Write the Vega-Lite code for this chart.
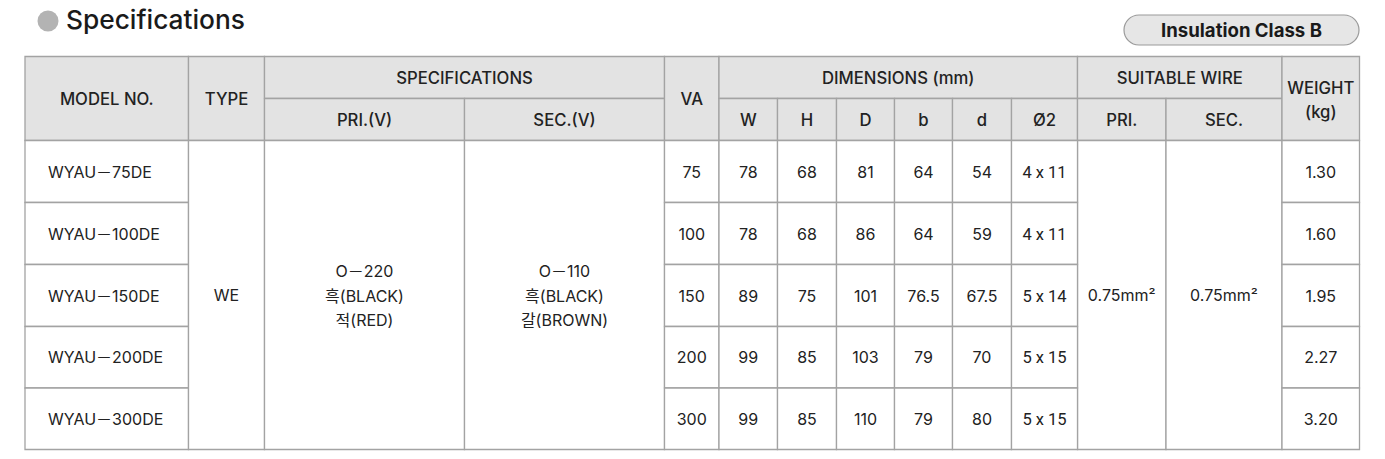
{
  "$schema": "https://vega.github.io/schema/vega-lite/v6.json",
  "width": 1385,
  "height": 459,
  "autosize": {"type": "none"},
  "padding": 0,
  "background": "white",
  "view": {"stroke": null},
  "config": {"font": "Inter, 'Noto Sans CJK KR', sans-serif"},
  "datasets": {
    "cells": [
      {"label": "MODEL NO.", "x0": 25, "x1": 188.5, "y0": 56.5, "y1": 140.5, "cx": 106.75, "cy": 98.5, "kind": "head", "align": "center"},
      {"label": "TYPE", "x0": 188.5, "x1": 264.5, "y0": 56.5, "y1": 140.5, "cx": 226.5, "cy": 98.5, "kind": "head", "align": "center"},
      {"label": "SPECIFICATIONS", "x0": 264.5, "x1": 664.5, "y0": 56.5, "y1": 98.5, "cx": 464.5, "cy": 77.5, "kind": "head", "align": "center"},
      {"label": "PRI.(V)", "x0": 264.5, "x1": 464.5, "y0": 98.5, "y1": 140.5, "cx": 364.5, "cy": 119.5, "kind": "head", "align": "center"},
      {"label": "SEC.(V)", "x0": 464.5, "x1": 664.5, "y0": 98.5, "y1": 140.5, "cx": 564.5, "cy": 119.5, "kind": "head", "align": "center"},
      {"label": "VA", "x0": 664.5, "x1": 719, "y0": 56.5, "y1": 140.5, "cx": 691.75, "cy": 98.5, "kind": "head", "align": "center"},
      {"label": "DIMENSIONS (mm)", "x0": 719, "x1": 1077.5, "y0": 56.5, "y1": 98.5, "cx": 898.25, "cy": 77.5, "kind": "head", "align": "center"},
      {"label": "W", "x0": 719, "x1": 777.5, "y0": 98.5, "y1": 140.5, "cx": 748.25, "cy": 119.5, "kind": "head", "align": "center"},
      {"label": "H", "x0": 777.5, "x1": 836.5, "y0": 98.5, "y1": 140.5, "cx": 807, "cy": 119.5, "kind": "head", "align": "center"},
      {"label": "D", "x0": 836.5, "x1": 894.5, "y0": 98.5, "y1": 140.5, "cx": 865.5, "cy": 119.5, "kind": "head", "align": "center"},
      {"label": "b", "x0": 894.5, "x1": 952.5, "y0": 98.5, "y1": 140.5, "cx": 923.5, "cy": 119.5, "kind": "head", "align": "center"},
      {"label": "d", "x0": 952.5, "x1": 1011.5, "y0": 98.5, "y1": 140.5, "cx": 982, "cy": 119.5, "kind": "head", "align": "center"},
      {"label": "Ø2", "x0": 1011.5, "x1": 1077.5, "y0": 98.5, "y1": 140.5, "cx": 1044.5, "cy": 119.5, "kind": "head", "align": "center"},
      {"label": "SUITABLE WIRE", "x0": 1077.5, "x1": 1282, "y0": 56.5, "y1": 98.5, "cx": 1179.75, "cy": 77.5, "kind": "head", "align": "center"},
      {"label": "PRI.", "x0": 1077.5, "x1": 1166, "y0": 98.5, "y1": 140.5, "cx": 1121.75, "cy": 119.5, "kind": "head", "align": "center"},
      {"label": "SEC.", "x0": 1166, "x1": 1282, "y0": 98.5, "y1": 140.5, "cx": 1224, "cy": 119.5, "kind": "head", "align": "center"},
      {"label": "WEIGHT\n(kg)", "x0": 1282, "x1": 1359.5, "y0": 56.5, "y1": 140.5, "cx": 1320.75, "cy": 98.5, "kind": "head", "align": "center"},

      {"label": "WYAU－75DE", "x0": 25, "x1": 188.5, "y0": 140.5, "y1": 202.5, "cx": 106.75, "cy": 171.5, "kind": "body", "align": "left"},
      {"label": "WYAU－100DE", "x0": 25, "x1": 188.5, "y0": 202.5, "y1": 264.5, "cx": 106.75, "cy": 233.5, "kind": "body", "align": "left"},
      {"label": "WYAU－150DE", "x0": 25, "x1": 188.5, "y0": 264.5, "y1": 326.5, "cx": 106.75, "cy": 295.5, "kind": "body", "align": "left"},
      {"label": "WYAU－200DE", "x0": 25, "x1": 188.5, "y0": 326.5, "y1": 388, "cx": 106.75, "cy": 357.25, "kind": "body", "align": "left"},
      {"label": "WYAU－300DE", "x0": 25, "x1": 188.5, "y0": 388, "y1": 449.5, "cx": 106.75, "cy": 418.75, "kind": "body", "align": "left"},
      {"label": "WE", "x0": 188.5, "x1": 264.5, "y0": 140.5, "y1": 449.5, "cx": 226.5, "cy": 295, "kind": "body", "align": "center"},
      {"label": "O－220\n흑(BLACK)\n적(RED)", "x0": 264.5, "x1": 464.5, "y0": 140.5, "y1": 449.5, "cx": 364.5, "cy": 295, "kind": "body", "align": "center"},
      {"label": "O－110\n흑(BLACK)\n갈(BROWN)", "x0": 464.5, "x1": 664.5, "y0": 140.5, "y1": 449.5, "cx": 564.5, "cy": 295, "kind": "body", "align": "center"},
      {"label": "0.75mm²", "x0": 1077.5, "x1": 1166, "y0": 140.5, "y1": 449.5, "cx": 1121.75, "cy": 295, "kind": "body", "align": "center"},
      {"label": "0.75mm²", "x0": 1166, "x1": 1282, "y0": 140.5, "y1": 449.5, "cx": 1224, "cy": 295, "kind": "body", "align": "center"},

      {"label": "75", "x0": 664.5, "x1": 719, "y0": 140.5, "y1": 202.5, "cx": 691.75, "cy": 171.5, "kind": "body", "align": "center"},
      {"label": "78", "x0": 719, "x1": 777.5, "y0": 140.5, "y1": 202.5, "cx": 748.25, "cy": 171.5, "kind": "body", "align": "center"},
      {"label": "68", "x0": 777.5, "x1": 836.5, "y0": 140.5, "y1": 202.5, "cx": 807, "cy": 171.5, "kind": "body", "align": "center"},
      {"label": "81", "x0": 836.5, "x1": 894.5, "y0": 140.5, "y1": 202.5, "cx": 865.5, "cy": 171.5, "kind": "body", "align": "center"},
      {"label": "64", "x0": 894.5, "x1": 952.5, "y0": 140.5, "y1": 202.5, "cx": 923.5, "cy": 171.5, "kind": "body", "align": "center"},
      {"label": "54", "x0": 952.5, "x1": 1011.5, "y0": 140.5, "y1": 202.5, "cx": 982, "cy": 171.5, "kind": "body", "align": "center"},
      {"label": "4 x 11", "x0": 1011.5, "x1": 1077.5, "y0": 140.5, "y1": 202.5, "cx": 1044.5, "cy": 171.5, "kind": "body", "align": "center"},
      {"label": "1.30", "x0": 1282, "x1": 1359.5, "y0": 140.5, "y1": 202.5, "cx": 1320.75, "cy": 171.5, "kind": "body", "align": "center"},

      {"label": "100", "x0": 664.5, "x1": 719, "y0": 202.5, "y1": 264.5, "cx": 691.75, "cy": 233.5, "kind": "body", "align": "center"},
      {"label": "78", "x0": 719, "x1": 777.5, "y0": 202.5, "y1": 264.5, "cx": 748.25, "cy": 233.5, "kind": "body", "align": "center"},
      {"label": "68", "x0": 777.5, "x1": 836.5, "y0": 202.5, "y1": 264.5, "cx": 807, "cy": 233.5, "kind": "body", "align": "center"},
      {"label": "86", "x0": 836.5, "x1": 894.5, "y0": 202.5, "y1": 264.5, "cx": 865.5, "cy": 233.5, "kind": "body", "align": "center"},
      {"label": "64", "x0": 894.5, "x1": 952.5, "y0": 202.5, "y1": 264.5, "cx": 923.5, "cy": 233.5, "kind": "body", "align": "center"},
      {"label": "59", "x0": 952.5, "x1": 1011.5, "y0": 202.5, "y1": 264.5, "cx": 982, "cy": 233.5, "kind": "body", "align": "center"},
      {"label": "4 x 11", "x0": 1011.5, "x1": 1077.5, "y0": 202.5, "y1": 264.5, "cx": 1044.5, "cy": 233.5, "kind": "body", "align": "center"},
      {"label": "1.60", "x0": 1282, "x1": 1359.5, "y0": 202.5, "y1": 264.5, "cx": 1320.75, "cy": 233.5, "kind": "body", "align": "center"},

      {"label": "150", "x0": 664.5, "x1": 719, "y0": 264.5, "y1": 326.5, "cx": 691.75, "cy": 295.5, "kind": "body", "align": "center"},
      {"label": "89", "x0": 719, "x1": 777.5, "y0": 264.5, "y1": 326.5, "cx": 748.25, "cy": 295.5, "kind": "body", "align": "center"},
      {"label": "75", "x0": 777.5, "x1": 836.5, "y0": 264.5, "y1": 326.5, "cx": 807, "cy": 295.5, "kind": "body", "align": "center"},
      {"label": "101", "x0": 836.5, "x1": 894.5, "y0": 264.5, "y1": 326.5, "cx": 865.5, "cy": 295.5, "kind": "body", "align": "center"},
      {"label": "76.5", "x0": 894.5, "x1": 952.5, "y0": 264.5, "y1": 326.5, "cx": 923.5, "cy": 295.5, "kind": "body", "align": "center"},
      {"label": "67.5", "x0": 952.5, "x1": 1011.5, "y0": 264.5, "y1": 326.5, "cx": 982, "cy": 295.5, "kind": "body", "align": "center"},
      {"label": "5 x 14", "x0": 1011.5, "x1": 1077.5, "y0": 264.5, "y1": 326.5, "cx": 1044.5, "cy": 295.5, "kind": "body", "align": "center"},
      {"label": "1.95", "x0": 1282, "x1": 1359.5, "y0": 264.5, "y1": 326.5, "cx": 1320.75, "cy": 295.5, "kind": "body", "align": "center"},

      {"label": "200", "x0": 664.5, "x1": 719, "y0": 326.5, "y1": 388, "cx": 691.75, "cy": 357.25, "kind": "body", "align": "center"},
      {"label": "99", "x0": 719, "x1": 777.5, "y0": 326.5, "y1": 388, "cx": 748.25, "cy": 357.25, "kind": "body", "align": "center"},
      {"label": "85", "x0": 777.5, "x1": 836.5, "y0": 326.5, "y1": 388, "cx": 807, "cy": 357.25, "kind": "body", "align": "center"},
      {"label": "103", "x0": 836.5, "x1": 894.5, "y0": 326.5, "y1": 388, "cx": 865.5, "cy": 357.25, "kind": "body", "align": "center"},
      {"label": "79", "x0": 894.5, "x1": 952.5, "y0": 326.5, "y1": 388, "cx": 923.5, "cy": 357.25, "kind": "body", "align": "center"},
      {"label": "70", "x0": 952.5, "x1": 1011.5, "y0": 326.5, "y1": 388, "cx": 982, "cy": 357.25, "kind": "body", "align": "center"},
      {"label": "5 x 15", "x0": 1011.5, "x1": 1077.5, "y0": 326.5, "y1": 388, "cx": 1044.5, "cy": 357.25, "kind": "body", "align": "center"},
      {"label": "2.27", "x0": 1282, "x1": 1359.5, "y0": 326.5, "y1": 388, "cx": 1320.75, "cy": 357.25, "kind": "body", "align": "center"},

      {"label": "300", "x0": 664.5, "x1": 719, "y0": 388, "y1": 449.5, "cx": 691.75, "cy": 418.75, "kind": "body", "align": "center"},
      {"label": "99", "x0": 719, "x1": 777.5, "y0": 388, "y1": 449.5, "cx": 748.25, "cy": 418.75, "kind": "body", "align": "center"},
      {"label": "85", "x0": 777.5, "x1": 836.5, "y0": 388, "y1": 449.5, "cx": 807, "cy": 418.75, "kind": "body", "align": "center"},
      {"label": "110", "x0": 836.5, "x1": 894.5, "y0": 388, "y1": 449.5, "cx": 865.5, "cy": 418.75, "kind": "body", "align": "center"},
      {"label": "79", "x0": 894.5, "x1": 952.5, "y0": 388, "y1": 449.5, "cx": 923.5, "cy": 418.75, "kind": "body", "align": "center"},
      {"label": "80", "x0": 952.5, "x1": 1011.5, "y0": 388, "y1": 449.5, "cx": 982, "cy": 418.75, "kind": "body", "align": "center"},
      {"label": "5 x 15", "x0": 1011.5, "x1": 1077.5, "y0": 388, "y1": 449.5, "cx": 1044.5, "cy": 418.75, "kind": "body", "align": "center"},
      {"label": "3.20", "x0": 1282, "x1": 1359.5, "y0": 388, "y1": 449.5, "cx": 1320.75, "cy": 418.75, "kind": "body", "align": "center"}
    ],
    "heading": [
      {"label": "Specifications", "x": 66, "y": 21}
    ],
    "dot": [
      {"x": 48, "y": 21}
    ],
    "badge": [
      {"label": "Insulation Class B", "x0": 1124, "x1": 1359, "y0": 15, "y1": 45, "cx": 1241.5, "cy": 30}
    ]
  },
  "layer": [
    {
      "data": {"name": "cells"},
      "mark": {"type": "rect", "stroke": "#a3a3a3", "strokeWidth": 1.3},
      "encoding": {
        "x": {"field": "x0", "type": "quantitative", "scale": {"domain": [0, 1385], "nice": false, "zero": false}, "axis": null},
        "x2": {"field": "x1"},
        "y": {"field": "y0", "type": "quantitative", "scale": {"domain": [0, 459], "nice": false, "zero": false, "reverse": true}, "axis": null},
        "y2": {"field": "y1"},
        "fill": {"field": "kind", "type": "nominal", "scale": {"domain": ["head", "body"], "range": ["#e3e3e3", "#ffffff"]}, "legend": null}
      }
    },
    {
      "data": {"name": "cells"},
      "transform": [{"filter": "datum.align == 'center' && datum.kind == 'head' && indexof(datum.label, '\\n') < 0"}],
      "mark": {"type": "text", "align": "center", "baseline": "middle", "fontSize": 16.7, "fontWeight": 500, "color": "#222222", "dy": 1},
      "encoding": {
        "x": {"field": "cx", "type": "quantitative"},
        "y": {"field": "cy", "type": "quantitative"},
        "text": {"field": "label", "type": "nominal"}
      }
    },
    {
      "data": {"name": "cells"},
      "transform": [{"filter": "datum.kind == 'head' && indexof(datum.label, '\\n') >= 0"}],
      "mark": {"type": "text", "align": "center", "baseline": "middle", "fontSize": 16.7, "fontWeight": 500, "lineBreak": "\n", "lineHeight": 24.5, "color": "#222222", "dy": -10},
      "encoding": {
        "x": {"field": "cx", "type": "quantitative"},
        "y": {"field": "cy", "type": "quantitative"},
        "text": {"field": "label", "type": "nominal"}
      }
    },
    {
      "data": {"name": "cells"},
      "transform": [{"filter": "datum.align == 'center' && datum.kind == 'body' && indexof(datum.label, '\\n') < 0 && indexof(datum.label, ' x ') < 0"}],
      "mark": {"type": "text", "align": "center", "baseline": "middle", "fontSize": 16, "color": "#222222", "dy": 1},
      "encoding": {
        "x": {"field": "cx", "type": "quantitative"},
        "y": {"field": "cy", "type": "quantitative"},
        "text": {"field": "label", "type": "nominal"}
      }
    },
    {
      "data": {"name": "cells"},
      "transform": [{"filter": "indexof(datum.label, ' x ') >= 0"}],
      "mark": {"type": "text", "align": "center", "baseline": "middle", "font": "Roboto", "fontSize": 16.5, "color": "#222222", "dy": 1},
      "encoding": {
        "x": {"field": "cx", "type": "quantitative"},
        "y": {"field": "cy", "type": "quantitative"},
        "text": {"field": "label", "type": "nominal"}
      }
    },
    {
      "data": {"name": "cells"},
      "transform": [{"filter": "datum.kind == 'body' && indexof(datum.label, '\\n') >= 0"}],
      "mark": {"type": "text", "align": "center", "baseline": "middle", "fontSize": 16, "lineBreak": "\n", "lineHeight": 24.5, "color": "#222222", "dy": -23},
      "encoding": {
        "x": {"field": "cx", "type": "quantitative"},
        "y": {"field": "cy", "type": "quantitative"},
        "text": {"field": "label", "type": "nominal"}
      }
    },
    {
      "data": {"name": "cells"},
      "transform": [{"filter": "datum.align == 'left'"}],
      "mark": {"type": "text", "align": "left", "baseline": "middle", "fontSize": 16, "dx": 23, "dy": 1, "color": "#222222"},
      "encoding": {
        "x": {"field": "x0", "type": "quantitative"},
        "y": {"field": "cy", "type": "quantitative"},
        "text": {"field": "label", "type": "nominal"}
      }
    },
    {
      "data": {"name": "dot"},
      "mark": {"type": "circle", "size": 441, "color": "#b3b3b3", "opacity": 1},
      "encoding": {
        "x": {"field": "x", "type": "quantitative"},
        "y": {"field": "y", "type": "quantitative"}
      }
    },
    {
      "data": {"name": "heading"},
      "mark": {"type": "text", "align": "left", "baseline": "middle", "fontSize": 26.3, "fontWeight": 500, "color": "#1a1a1a"},
      "encoding": {
        "x": {"field": "x", "type": "quantitative"},
        "y": {"field": "y", "type": "quantitative"},
        "text": {"field": "label", "type": "nominal"}
      }
    },
    {
      "data": {"name": "badge"},
      "mark": {"type": "rect", "fill": "#e6e6e6", "stroke": "#9a9a9a", "strokeWidth": 1.2, "cornerRadius": 15},
      "encoding": {
        "x": {"field": "x0", "type": "quantitative"},
        "x2": {"field": "x1"},
        "y": {"field": "y0", "type": "quantitative"},
        "y2": {"field": "y1"}
      }
    },
    {
      "data": {"name": "badge"},
      "mark": {"type": "text", "align": "center", "baseline": "middle", "fontSize": 18.6, "fontWeight": "bold", "color": "#1a1a1a", "dy": 1},
      "encoding": {
        "x": {"field": "cx", "type": "quantitative"},
        "y": {"field": "cy", "type": "quantitative"},
        "text": {"field": "label", "type": "nominal"}
      }
    }
  ]
}
